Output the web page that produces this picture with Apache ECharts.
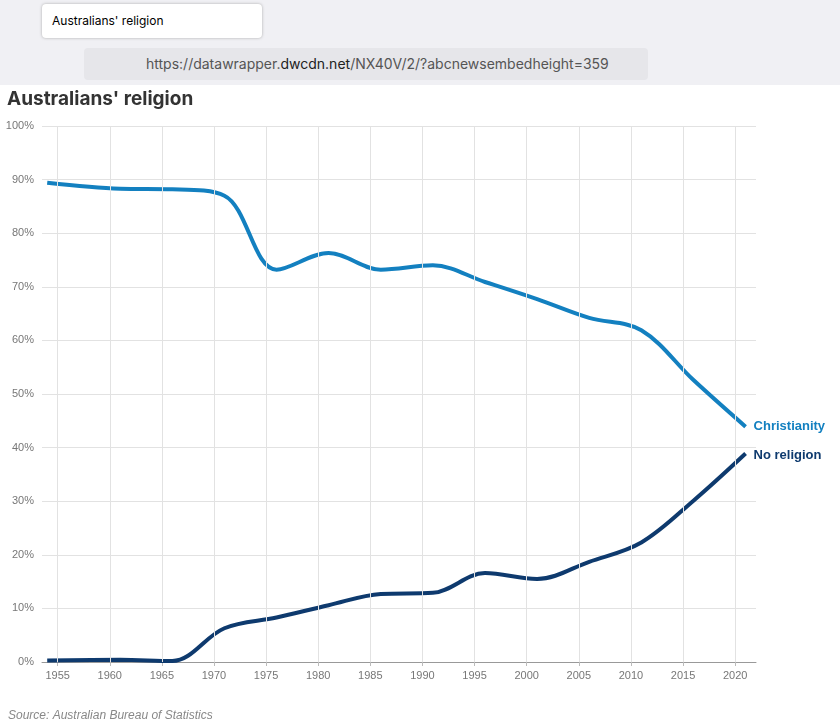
<!DOCTYPE html>
<html>
<head>
<meta charset="utf-8">
<script src="https://cdn.jsdelivr.net/npm/echarts@6/dist/echarts.min.js"></script>
<style>
body{margin:0;font-family:Inter,Roboto,sans-serif;}
#chrome{position:absolute;left:0;top:0;width:840px;height:85px;background:#f0f0f4;border-bottom:1px solid #ddd;}
#tab{position:absolute;left:42px;top:4px;width:220px;height:34px;background:#fff;border-radius:4px;box-shadow:0 0 3px #aaa;font-size:12px;line-height:34px;padding-left:10px;box-sizing:border-box;}
#url{position:absolute;left:84px;top:48px;width:564px;height:32px;background:#e6e6ea;border-radius:4px;font-size:14px;line-height:32px;padding-left:62px;box-sizing:border-box;color:#555;}
#main{position:absolute;left:0;top:85px;width:840px;height:638px;}
</style>
</head>
<body>
<div id="chrome"><div id="tab">Australians' religion</div><div id="url">https://datawrapper.<b style="color:#222;font-weight:normal">dwcdn.net</b>/NX40V/2/?abcnewsembedheight=359</div></div>
<div id="main"></div>
<script>
// 人口普查年份与数据（百分比）
var years = [1954, 1961, 1966, 1971, 1976, 1981, 1986, 1991, 1996, 2001, 2006, 2011, 2016, 2021];
var christianity = [89.4, 88.3, 88.2, 87.0, 73.2, 76.3, 73.2, 74.0, 70.9, 67.7, 64.2, 61.9, 52.6, 43.9];
var noReligion = [0.3, 0.4, 0.2, 6.3, 8.3, 10.6, 12.7, 12.9, 16.6, 15.5, 18.7, 22.3, 30.1, 38.9];
var xTicks = [1955, 1960, 1965, 1970, 1975, 1980, 1985, 1990, 1995, 2000, 2005, 2010, 2015, 2020];

function pairs(vals) {
	var out = [];
	for (var i = 0; i < years.length; i++) out.push([years[i], vals[i]]);
	return out;
}

var myChart = echarts.init(document.getElementById("main"));
var option = {
	backgroundColor: "#ffffff",
	animation: false,
	title: [{
		text: "Australians' religion", left: 2, top: 0,
		textStyle: {fontSize: 19, fontWeight: "bold", color: "#333", fontFamily: "Inter"}
	}, {
		text: "Source: Australian Bureau of Statistics", left: 3, top: 620,
		textStyle: {fontSize: 12, fontWeight: "normal", fontStyle: "italic", color: "#888"}
	}],
	grid: {left: 42, right: 84, top: 41, bottom: 61},
	xAxis: {
		type: "value", min: 1953.5, max: 2022,
		axisLine: {lineStyle: {color: "#999"}},
		axisTick: {show: true, customValues: xTicks, length: 4, lineStyle: {color: "#bbb"}},
		axisLabel: {customValues: xTicks, color: "#777", fontSize: 11, formatter: function(v) { return String(v); }},
		splitLine: {show: false}
	},
	yAxis: {
		type: "value", min: 0, max: 100, interval: 10,
		axisLabel: {formatter: "{value}%", color: "#777", fontSize: 11, margin: 8, align: "right"},
		axisLine: {show: false}, axisTick: {show: false},
		splitLine: {lineStyle: {color: "#e2e2e2"}}
	},
	series: [{
		name: "Christianity", type: "line", smooth: 0.35, symbol: "none",
		data: pairs(christianity),
		lineStyle: {width: 4, color: "#1380c0"}, itemStyle: {color: "#1380c0"},
		endLabel: {show: true, formatter: "Christianity", color: "#1380c0", fontWeight: "bold", fontSize: 13, distance: 8},
		markLine: {
			silent: true, symbol: "none", label: {show: false},
			lineStyle: {color: "#e2e2e2", type: "solid", width: 1},
			data: xTicks.map(function(v) { return {xAxis: v}; })
		},
		z: 3
	}, {
		name: "No religion", type: "line", smooth: 0.35, symbol: "none",
		data: pairs(noReligion),
		lineStyle: {width: 4, color: "#0e3a6e"}, itemStyle: {color: "#0e3a6e"},
		endLabel: {show: true, formatter: "No religion", color: "#0e3a6e", fontWeight: "bold", fontSize: 13, distance: 8, offset: [0, 2]},
		z: 3
	}]
};
myChart.setOption(option);
</script>
</body>
</html>
